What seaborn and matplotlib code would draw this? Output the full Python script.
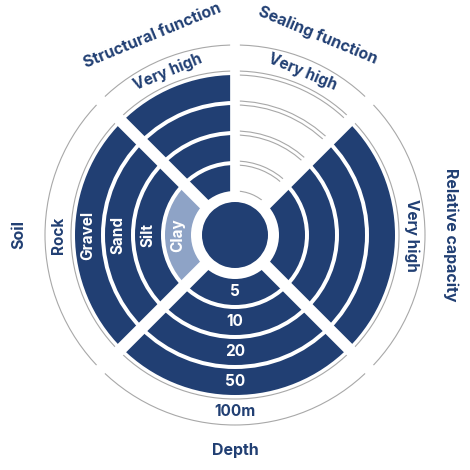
import numpy as np
import matplotlib
matplotlib.use("Agg")
import matplotlib.pyplot as plt
import seaborn as sns

sns.set_theme(style="white")
plt.rcParams['font.family'] = ['Inter', 'DejaVu Sans']

# sectors: name, start angle, end angle (degrees), ring labels, ring fills
sector_names = ["Structural function", "Sealing function", "Relative capacity", "Depth", "Soil"]
sector_start = [90, 45, -45, 225, 135]
sector_end = [135, 90, 45, 315, 225]
# fill kind per ring (inner -> outer): d = dark, l = light, o = outline only
structural_fill = ["d", "d", "d", "d", "o"]
sealing_fill = ["o", "o", "o", "o", "o"]
capacity_fill = ["d", "d", "d", "d", "o"]
depth_fill = ["d", "d", "d", "d", "o"]
soil_fill = ["l", "d", "d", "d", "o"]
structural_labels = ["", "", "", "", "Very high"]
sealing_labels = ["", "", "", "", "Very high"]
capacity_labels = ["", "", "", "", "Very high"]
depth_labels = ["5", "10", "20", "50", "100m"]
soil_labels = ["Clay", "Silt", "Sand", "Gravel", "Rock"]

fills = [structural_fill, sealing_fill, capacity_fill, depth_fill, soil_fill]
labels = [structural_labels, sealing_labels, capacity_labels, depth_labels, soil_labels]

DARK = "#213f73"
LIGHT = "#8ea3c6"
EDGE = "#a8a8a8"
ring_inner = 44
ring_step = 30
ring_h = 26


def text_rot(mid):
    if mid == 180:
        return 90
    if mid == 0:
        return -90
    if mid == 270:
        return 0
    return mid - 90


fig = plt.figure(figsize=(4.7, 4.7), dpi=100)
ax = fig.add_axes([0, 0, 1, 1], projection="polar")
ax.set_ylim(0, 235)
ax.set_axis_off()

ax.bar(0, 33, width=2 * np.pi, bottom=0, color=DARK, edgecolor="none")

for name, a0, a1, fl, lb in zip(sector_names, sector_start, sector_end, fills, labels):
    mid = (a0 + a1) / 2
    th = np.deg2rad(mid)
    w = np.deg2rad(a1 - a0)
    for i, (f, t) in enumerate(zip(fl, lb)):
        b = ring_inner + i * ring_step
        if f == "o":
            ax.bar(th, ring_h, width=w, bottom=b, color="white", edgecolor=EDGE, linewidth=0.8)
            tc = DARK
        else:
            ax.bar(th, ring_h, width=w, bottom=b, color=DARK if f == "d" else LIGHT, edgecolor="none")
            tc = "white"
        if t:
            ax.text(th, b + ring_h / 2, t, rotation=text_rot(mid), ha="center", va="center",
                    color=tc, fontsize=11, fontweight="bold")
    ax.text(th, 216, name, rotation=text_rot(mid), ha="center", va="center",
            color=DARK, fontsize=11.5, fontweight="bold")

# white gaps between sectors
for a, lw in zip([45, 135, 225, 315, 90], [8.5, 8.5, 8.5, 8.5, 7]):
    ax.plot([np.deg2rad(a)] * 2, [38, 200], color="white", linewidth=lw, solid_capstyle="butt")

fig.savefig("out.png", dpi=100)
